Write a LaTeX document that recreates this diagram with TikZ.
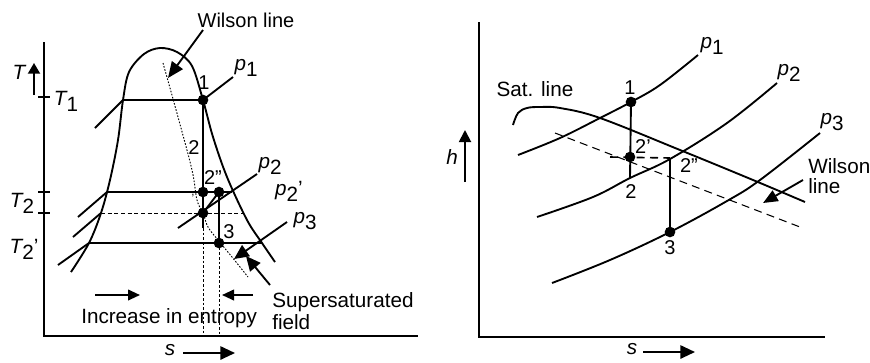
\documentclass[tikz,border=0pt]{standalone}
\usepackage{fontspec}
\setmainfont{Liberation Sans}
\usetikzlibrary{arrows.meta}
\newcommand\lsub[1]{\raisebox{-0.55ex}{#1}}
\begin{document}
\begin{tikzpicture}[x=0.75pt,y=-0.75pt,
  ln/.style={line width=1.4pt},
  thin line/.style={line width=0.6pt},
  dotl/.style={line width=0.7pt, dash pattern=on 1.2pt off 1.2pt},
  dashl/.style={line width=0.8pt, dash pattern=on 6pt off 4pt},
  tip/.style={-{Triangle[length=9pt,width=8pt]}},
  bigtip/.style={-{Triangle[length=11pt,width=10pt]}},
  dot/.style={circle, fill=black, inner sep=0pt, minimum size=8pt},
  lbl/.style={inner sep=0pt, font=\fontsize{15.5}{18}\selectfont},
  nlbl/.style={inner sep=0pt, font=\fontsize{15}{17}\selectfont}]
\useasboundingbox (0,0) rectangle (870,362);

% ================= LEFT: T-s diagram =================
\coordinate (Ltop) at (44,42);
\coordinate (Lorg) at (44,336);
\coordinate (Lend) at (418,336);
\draw[ln] (Ltop) -- (Lorg) -- (Lend);
% ticks
\draw[ln] (38,97) -- (50,97);
\draw[ln] (38,192) -- (50,192);
\draw[ln] (38,213) -- (50,213);
% T arrow
\coordinate (Ta) at (34,95); \coordinate (Tb) at (34,63);
\draw[ln, -{Triangle[length=8pt,width=9pt]}] (Ta) -- (Tb);
\node[lbl] (T) at (19,72) {\itshape T};
\node[lbl] (T1) at (66,101) {{\itshape T}\lsub{1}};
\node[lbl] (T2) at (22,203) {{\itshape T}\lsub{2}};
\node[lbl] (T2p) at (24,249) {{\itshape T}\lsub{2}'};

% saturation dome
\draw[ln] plot[smooth, tension=0.55] coordinates {(71,272) (89,243) (101,213) (110,180) (118,140) (123,100) (129,72) (144,54) (160,48) (177,52) (192,66) (203,100) (213,137) (227,177) (247,220) (262,243) (275,262)};

% state points
\coordinate (P1) at (203,100);
\coordinate (P2a) at (203,192);
\coordinate (P2b) at (219,192);
\coordinate (P2p) at (203,213);
\coordinate (P3) at (219,243);

% horizontal lines
\draw[ln] (123,100) -- (P1);
\draw[ln] (107,192) -- (232,192);
\draw[thin line, densely dashed] (101,213) -- (244,213);
\draw[ln] (89,243) -- (262,243);
% extension lines on left
\draw[ln] (95,128) -- (123,100);
\draw[ln] (78,217) -- (107,192);
\draw[ln] (73,237) -- (101,213);
\draw[ln] (58,265) -- (89,243);

% process lines
\coordinate (P1low) at (203,228);
\draw[ln] (P1) -- (P1low);
\draw[ln] (P2b) -- (P3);
\draw[ln] (P2p) -- (P2b);
\draw[thin line, dash pattern=on 2pt off 1.5pt] (P1low) -- (203,336);
\draw[thin line, dash pattern=on 2pt off 1.5pt] (P3) -- (219,336);

% isobars
\draw[ln] (P1) -- (233,77);
\draw[ln] (178,228) -- (257,174);
\draw[ln, bigtip] (287,222) -- (234,259);
\draw[ln, bigtip] (270,285) -- (246,256);

% Wilson line (dotted)
\draw[dotl] plot[smooth, tension=0.6] coordinates {(163,63) (178,117) (192,170) (197,200) (203,213) (208,227) (218,240) (232,257) (248,277)};
\node[font=\fontsize{15}{17}\selectfont, inner sep=0pt] (WL) at (246,20) {Wilson line};
\draw[ln, -{Triangle[length=12pt,width=10pt]}] (203,30) -- (168,78);

% dots
\foreach \p in {P1,P2a,P2b,P2p,P3} \node[dot] at (\p) {};

% point labels
\node[nlbl] at (204,83) {1};
\node[nlbl] at (194,148) {2};
\node[nlbl] at (213,178) {2''};
\node[nlbl, font=\fontsize{9}{10}\selectfont] at (193,198) {'};
\node[nlbl] at (229,232) {3};
\node[lbl] at (246,68) {{\itshape p}\lsub{1}};
\node[lbl] at (270,166) {{\itshape p}\lsub{2}};
\node[lbl] at (289,191) {{\itshape p}\lsub{2}'};
\node[lbl] at (305,221) {{\itshape p}\lsub{3}};

% entropy arrows and text
\draw[ln, tip] (95,295) -- (140,295);
\draw[ln, tip] (253,295) -- (222,295);
\node[lbl, anchor=base west] at (81,323) {Increase in entropy};
\node[lbl, anchor=base west] at (272,307) {Supersaturated};
\node[lbl, anchor=base west] at (272,329) {field};
\node[lbl] (sL) at (170,350) {\itshape s};
\draw[ln, -{Triangle[length=11pt,width=10pt]}] (183,353) -- (235,353);

% ================= RIGHT: h-s diagram =================
\draw[ln] (479,22) -- (479,337) -- (825,337);
\draw[ln, -{Triangle[length=9pt,width=9pt]}] (465,182) -- (465,130);
\node[lbl] (h) at (452,157) {\itshape h};

% saturation line
\draw[ln] plot[smooth, tension=0.6] coordinates {(513,125) (518,113) (527,108) (540,107) (560,108) (600,118) (680,150) (753,180) (805,202)};
\node[lbl] at (535,89) {Sat. line};

% isobars
\draw[ln] plot[smooth, tension=0.6] coordinates {(518,155) (560,138) (600,118) (631,102) (660,85) (698,55)};
\draw[ln] plot[smooth, tension=0.6] coordinates {(537,217) (593,197) (630,178) (670,159) (727,123) (777,83)};
\draw[ln] plot[smooth, tension=0.6] coordinates {(552,283) (610,260) (670,232) (727,201) (760,180) (820,133)};
\node[lbl] at (712,46) {{\itshape p}\lsub{1}};
\node[lbl] at (789,73) {{\itshape p}\lsub{2}};
\node[lbl] at (832,122) {{\itshape p}\lsub{3}};

% Wilson line dashed
\draw[dashl] (555,133) -- (800,227);

\coordinate (Q1) at (631,102);
\coordinate (Q2p) at (630,157);
\coordinate (Q2) at (630,178);
\coordinate (Q2pp) at (670,158);
\coordinate (Q3) at (670,232);
\draw[ln] (Q1) -- (Q2);
\draw[line width=1.2pt, dash pattern=on 6pt off 4pt] (610,157) -- (Q2pp);
\draw[ln] (Q2pp) -- (Q3);
\foreach \p in {Q1,Q2p,Q3} \node[dot] at (\p) {};

\node[nlbl] at (630,88) {1};
\node[nlbl] at (643,147) {2'};
\node[nlbl] at (689,166) {2''};
\node[nlbl] at (631,192) {2};
\node[nlbl] at (670,248) {3};

\node[lbl, anchor=base west] at (808,173) {Wilson};
\node[lbl, anchor=base west] at (808,193) {line};
\draw[ln, -{Triangle[length=11pt,width=9pt]}] (803,180) -- (763,203);

\node[lbl] (sR) at (632,349) {\itshape s};
\draw[ln, -{Triangle[length=11pt,width=10pt]}] (643,352) -- (695,352);
\end{tikzpicture}
\end{document}
